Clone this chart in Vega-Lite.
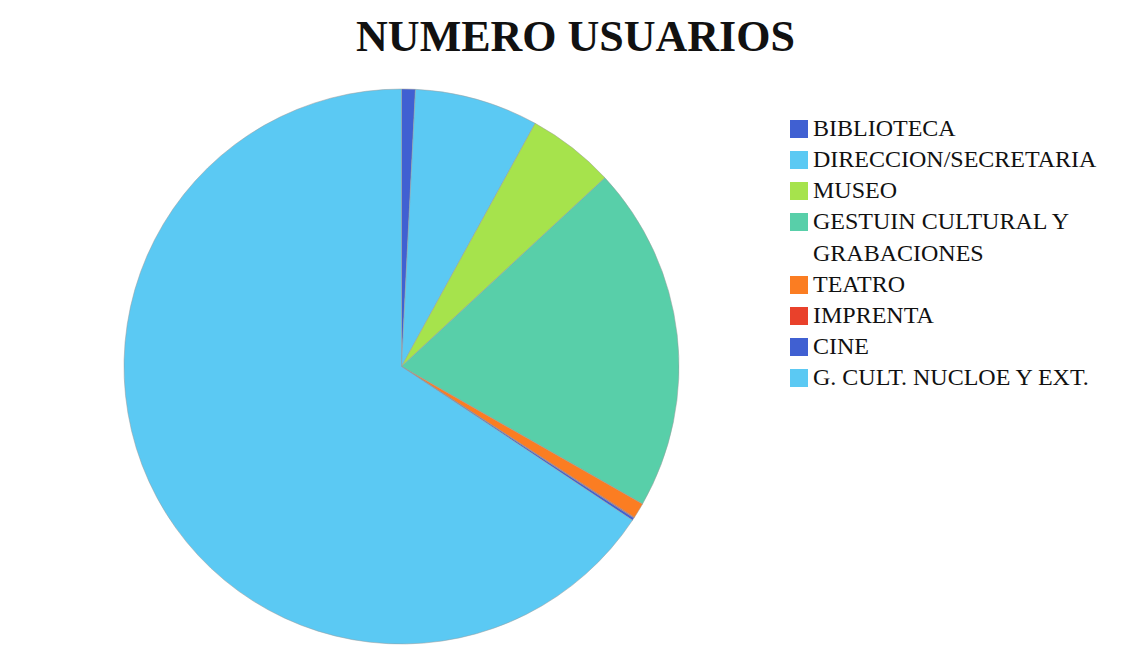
{
  "$schema": "https://vega.github.io/schema/vega-lite/v6.json",
  "autosize": {"type": "none"},
  "width": 555,
  "height": 555,
  "padding": {"left": 124, "top": 89, "right": 455, "bottom": 22},
  "background": "white",
  "config": {"view": {"stroke": null}, "style": {"guide-label": {"lineHeight": 32}}},
  "title": {
    "text": "NUMERO USUARIOS",
    "font": "Liberation Serif",
    "fontSize": 44,
    "fontWeight": "bold",
    "color": "#111111",
    "anchor": "middle",
    "frame": "group",
    "dx": 174,
    "offset": 28
  },
  "data": {
    "values": [
      {"area": "BIBLIOTECA", "valor": 0.8, "orden": 1},
      {"area": "DIRECCION/SECRETARIA", "valor": 7.2, "orden": 2},
      {"area": "MUSEO", "valor": 5.1, "orden": 3},
      {"area": "GESTUIN CULTURAL Y GRABACIONES", "valor": 20.15, "orden": 4},
      {"area": "TEATRO", "valor": 0.9, "orden": 5},
      {"area": "IMPRENTA", "valor": 0.05, "orden": 6},
      {"area": "CINE", "valor": 0.15, "orden": 7},
      {"area": "G. CULT. NUCLOE Y EXT.", "valor": 65.65, "orden": 8}
    ]
  },
  "mark": {"type": "arc", "stroke": "#9a9a9a", "strokeWidth": 0.5},
  "encoding": {
    "theta": {"field": "valor", "type": "quantitative", "stack": true},
    "order": {"field": "orden", "type": "quantitative"},
    "color": {
      "field": "area",
      "type": "nominal",
      "sort": null,
      "scale": {
        "domain": ["BIBLIOTECA", "DIRECCION/SECRETARIA", "MUSEO", "GESTUIN CULTURAL Y GRABACIONES", "TEATRO", "IMPRENTA", "CINE", "G. CULT. NUCLOE Y EXT."],
        "range": ["#4060d2", "#5bc9f3", "#a6e34c", "#58cfa9", "#fb7d22", "#e9412b", "#4060d2", "#5bc9f3"]
      },
      "legend": {
        "title": null,
        "orient": "none",
        "legendX": 663,
        "legendY": 28,
        "symbolType": "square",
        "symbolSize": 324,
        "symbolStrokeWidth": 0,
        "labelFont": "Liberation Serif",
        "labelFontSize": 24,
        "labelColor": "#111111",
        "labelLimit": 400,
        "labelOffset": 2,
        "rowPadding": 7,
        "labelExpr": "datum.label == 'GESTUIN CULTURAL Y GRABACIONES' ? ['GESTUIN CULTURAL Y', 'GRABACIONES'] : datum.label"
      }
    }
  }
}
